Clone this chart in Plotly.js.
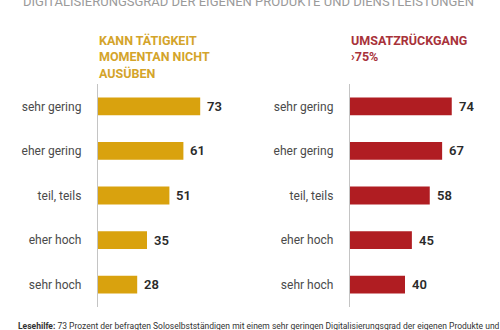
<!DOCTYPE html>
<html><head><meta charset="utf-8">
<script src="https://cdn.plot.ly/plotly-3.0.1.min.js"></script>
<style>html,body{margin:0;padding:0;background:#fff}#chart{width:500px;height:330px}</style>
</head><body><div id="chart"></div>
<script>
const categories = ["sehr gering", "eher gering", "teil, teils", "eher hoch", "sehr hoch"];
const kannNicht = [73, 61, 51, 35, 28];
const umsatz = [74, 67, 58, 45, 40];
const titleText = "DIGITALISIERUNGSGRAD DER EIGENEN PRODUKTE UND DIENSTLEISTUNGEN";
const leftTitle = "KANN TÄTIGKEIT<br>MOMENTAN NICHT<br>AUSÜBEN";
const rightTitle = "UMSATZRÜCKGANG<br>›75%";
const noteText = "<b>Lesehilfe:</b> 73 Prozent der befragten Soloselbstständigen mit einem sehr geringen Digitalisierungsgrad der eigenen Produkte und";

const GOLD = "#d9a20e", RED = "#b01d22";
const W = 500, H = 330;
const px = v => v / W, py = v => 1 - v / H;
const FONT = "Roboto, 'Open Sans', sans-serif";

const traces = [
  {type: "bar", orientation: "h", x: kannNicht, y: categories, marker: {color: GOLD}, width: 0.4, xaxis: "x", yaxis: "y", hoverinfo: "none"},
  {type: "bar", orientation: "h", x: umsatz, y: categories, marker: {color: RED}, width: 0.4, xaxis: "x2", yaxis: "y2", hoverinfo: "none"}
];

const annotations = [];
kannNicht.forEach((v, i) => annotations.push({xref: "x", yref: "y", x: v, y: categories[i], text: String(v), showarrow: false, xanchor: "left", xshift: 5, font: {family: FONT, size: 13, color: "#2a2a2a", weight: 600}}));
umsatz.forEach((v, i) => annotations.push({xref: "x2", yref: "y2", x: v, y: categories[i], text: String(v), showarrow: false, xanchor: "left", xshift: 5, font: {family: FONT, size: 13, color: "#2a2a2a", weight: 600}}));
annotations.push({xref: "paper", yref: "paper", x: px(248), y: py(1.5), text: titleText, showarrow: false, xanchor: "center", yanchor: "middle", font: {family: FONT, size: 13, color: "#9a9a9a"}});
annotations.push({xref: "paper", yref: "paper", x: px(97), y: py(31), text: "<b>" + leftTitle + "</b>", showarrow: false, xanchor: "left", yanchor: "top", align: "left", font: {family: FONT, size: 12.5, color: "#d4a42a"}});
annotations.push({xref: "paper", yref: "paper", x: px(349), y: py(31), text: "<b>" + rightTitle + "</b>", showarrow: false, xanchor: "left", yanchor: "top", align: "left", font: {family: FONT, size: 12.5, color: "#a8323a"}});
annotations.push({xref: "paper", yref: "paper", x: px(16), y: py(326), text: noteText, showarrow: false, xanchor: "left", yanchor: "middle", font: {family: FONT, size: 8.5, color: "#333"}});

const yax = {type: "category", categoryarray: categories, autorange: "reversed", showline: true, linecolor: "#c4c4c4", linewidth: 1.2, showgrid: false, zeroline: false, ticks: "", ticklabelstandoff: 13, tickfont: {family: FONT, size: 12, color: "#4a4a4a"}, domain: [1 - 307/H, 1 - 84/H], fixedrange: true};
const layout = {
  width: W, height: H, margin: {l: 0, r: 0, t: 0, b: 0}, showlegend: false,
  paper_bgcolor: "#fff", plot_bgcolor: "#fff", bargap: 0.6,
  xaxis: {domain: [98/W, 230/W], range: [0, 132/1.40], visible: false, fixedrange: true},
  xaxis2: {domain: [350/W, 490/W], range: [0, 140/1.375], visible: false, fixedrange: true},
  yaxis: Object.assign({anchor: "x"}, yax),
  yaxis2: Object.assign({anchor: "x2"}, yax),
  annotations: annotations
};
Plotly.newPlot("chart", traces, layout, {displayModeBar: false, staticPlot: true});
</script></body></html>
